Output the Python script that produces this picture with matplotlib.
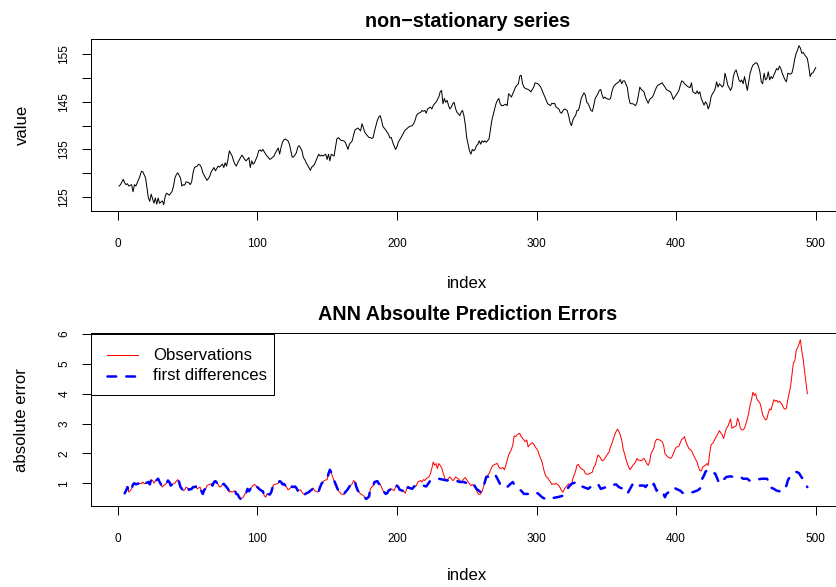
import matplotlib
matplotlib.use('Agg')
import matplotlib.pyplot as plt
from matplotlib.patches import Rectangle
from matplotlib.lines import Line2D

# ---------------- data ----------------
top_idx = [1,2,4,5,6,7,8,10,11,12,13,14,16,17,18,20,21,22,23,24,26,27,28,29,30,32,33,34,35,36,
           37,39,40,41,42,43,45,46,47,48,49,51,52,53,54,55,57,58,59,60,61,63,64,65,66,67,69,70,71,72,
           73,75,76,77,78,79,80,82,83,84,85,86,88,89,90,91,92,94,95,96,97,98,100,101,102,103,104,106,107,108,
           109,110,112,113,114,115,116,
           117,118,119,120,122,123,124,125,126,128,129,130,131,132,133,134,135,137,138,139,
           140,141,143,144,145,146,147,149,150,151,152,153,155,156,157,158,159,160,162,163,
           164,165,166,168,169,170,171,172,174,175,176,177,178,180,181,182,183,184,186,187,
           188,189,190,192,193,194,195,196,197,199,200,201,202,203,205,206,207,208,209,211,
           212,213,214,215,217,218,219,220,221,222,224,225,226,227,228,230,231,232,
           233,234,235,236,237,238,239,240,241,242,243,244,245,246,247,248,249,250,251,252,
           253,254,255,256,257,258,259,260,261,262,263,264,266,267,268,270,271,272,273,274,
           275,276,278,279,280,281,282,283,285,286,287,288,289,290,291,292,294,295,296,297,
           298,299,301,302,
           303,304,305,306,307,308,310,311,312,313,314,316,317,318,319,320,322,323,324,325,
           326,327,328,329,330,331,332,334,335,336,337,338,339,340,341,342,344,345,346,347,
           348,349,350,352,353,354,355,356,357,359,360,361,362,363,365,366,367,368,369,371,
           372,373,374,375,377,378,379,380,381,383,384,385,386,387,389,390,391,392,393,394,
           396,397,398,399,400,402,403,404,405,406,408,409,410,411,412,414,415,416,417,
           418,420,421,422,423,424,425,426,427,428,429,430,431,432,433,434,435,436,437,439,
           440,441,442,443,445,446,447,448,449,451,452,453,454,455,457,458,459,460,461,462,
           463,464,465,466,467,468,469,470,471,472,473,474,475,476,477,478,479,480,482,483,
           484,485,486,487,488,489,490,491,492,494,495,496,497,498,500]
top_val = [127.3,127.6,128.7,128.0,127.6,127.8,127.3,127.6,126.1,127.6,127.3,128.0,129.4,130.4,130.3,129.0,126.9,124.8,124.1,125.6,
           123.7,124.8,123.5,124.8,123.7,124.2,123.4,125.1,125.8,125.6,125.4,126.2,127.3,129.0,129.7,130.1,129.0,127.3,127.6,127.5,
           128.2,128.0,127.6,128.2,130.1,131.2,131.5,131.9,131.7,131.2,130.1,129.0,128.5,128.9,129.4,130.3,131.2,130.5,131.0,131.5,
           131.3,131.9,131.2,132.2,131.5,132.9,134.7,133.6,132.6,131.9,131.5,132.2,133.3,133.8,133.4,132.9,132.6,133.3,131.2,132.6,
           131.9,132.2,133.6,134.7,134.9,134.6,135.0,134.0,133.6,133.3,132.9,133.1,133.6,134.3,134.8,135.3,134.0,
           135.4,136.5,137.0,137.2,136.8,136.1,134.7,133.4,133.4,134.3,135.5,135.8,135.3,134.7,133.3,132.9,132.2,131.2,130.6,131.3,
           131.5,131.9,133.3,134.0,133.6,133.8,133.6,134.0,132.9,134.0,132.6,134.0,133.6,135.4,137.2,137.5,137.2,136.9,136.8,136.5,
           135.8,135.0,136.1,136.8,138.1,139.1,139.3,139.5,138.9,140.4,139.6,138.6,138.2,137.5,137.5,137.3,137.5,138.9,141.1,141.8,
           142.1,141.1,139.8,139.1,138.6,138.2,137.4,137.5,136.5,135.0,135.5,136.5,137.0,137.5,138.6,139.1,139.3,139.6,139.8,140.0,
           140.4,141.1,142.1,142.5,142.8,143.2,143.0,143.2,142.6,143.5,143.9,143.5,144.2,144.6,144.9,146.0,147.1,147.4,
           144.6,145.7,144.9,145.3,144.2,143.5,143.9,144.6,144.9,143.6,142.8,142.5,142.1,142.8,143.2,142.1,140.2,137.5,136.1,134.7,
           134.0,135.0,134.7,135.0,135.8,136.1,136.8,136.1,136.8,136.5,136.8,136.5,137.2,139.1,141.1,143.5,144.6,145.3,145.7,144.6,
           144.2,144.2,144.5,144.2,146.7,146.4,146.0,146.7,148.1,148.5,148.8,150.4,150.6,148.8,148.1,147.8,147.6,147.4,147.1,147.6,
           148.1,149.0,148.8,148.5,
           148.1,147.4,146.7,146.0,145.3,144.6,144.2,144.7,144.6,144.7,143.9,143.5,142.8,142.6,143.2,143.5,143.2,142.1,140.7,140.0,
           141.1,141.8,142.1,143.2,143.2,144.2,145.7,146.9,146.4,144.9,144.6,143.9,143.2,143.0,144.2,145.7,146.7,147.4,147.6,146.4,
           145.7,146.0,145.7,145.5,145.7,147.1,148.1,148.5,148.8,149.2,149.7,148.8,149.4,149.4,148.1,146.0,144.7,144.6,144.6,144.2,
           144.9,146.4,148.1,147.6,147.1,146.0,145.3,144.7,145.5,146.0,146.6,147.4,148.1,148.5,148.8,149.0,148.5,148.1,147.6,147.4,
           147.1,146.4,145.5,146.0,146.4,147.4,148.5,149.4,149.2,148.8,148.3,148.1,148.0,149.0,147.1,146.7,147.3,146.7,147.1,
           145.7,144.3,145.0,144.6,143.5,144.3,146.0,146.7,147.1,147.8,149.2,148.1,148.8,148.5,148.1,148.5,151.0,149.9,148.5,147.4,
           148.1,150.3,151.3,151.7,149.6,149.2,149.6,148.8,150.3,147.4,149.2,151.0,152.0,152.7,153.2,153.1,152.4,151.3,149.2,148.8,
           151.0,149.6,149.9,151.3,149.6,150.3,149.9,150.6,151.3,152.0,151.7,152.5,152.0,151.0,150.3,149.6,149.2,151.0,150.8,151.1,
           152.4,154.1,155.2,155.9,156.8,156.3,155.2,155.4,154.9,154.1,152.4,150.3,151.0,151.1,152.2]

obs_idx = [5,6,7,8,10,11,12,13,14,16,17,18,19,20,22,23,24,25,26,27,29,30,31,32,33,35,36,37,38,39,
           41,42,43,44,45,47,48,49,50,51,53,54,55,56,57,59,60,61,62,63,64,66,67,68,69,70,72,73,74,75,
           76,78,79,80,81,82,84,85,86,87,88,90,91,92,93,94,96,97,98,99,100,102,103,104,105,106,107,109,110,111,
           112,113,115,116,117,118,119,121,122,123,
           125,126,127,128,129,131,132,133,134,135,137,138,139,140,141,143,144,145,146,147,
           148,150,151,152,153,154,156,157,158,159,160,162,163,164,165,166,168,169,170,171,
           172,174,175,176,177,178,180,181,182,183,184,186,187,188,189,190,192,193,194,195,
           196,198,199,200,201,202,204,205,206,207,208,209,211,212,213,214,215,217,218,219,
           220,221,223,224,225,226,227,228,229,230,231,232,233,234,235,236,238,239,240,241,
           242,244,245,246,247,248,249,251,252,253,254,
           256,257,258,259,260,261,262,263,264,266,267,268,269,270,272,273,274,276,277,278,
           279,280,282,283,284,285,286,287,288,289,291,292,293,294,295,297,298,299,300,301,
           302,304,305,306,307,308,310,311,312,313,314,316,317,318,319,320,322,323,324,325,
           326,328,329,330,331,332,334,335,336,337,338,340,341,342,343,344,345,347,348,349,
           350,352,353,354,355,356,357,358,359,360,361,362,363,365,366,367,368,369,371,372,
           373,374,375,377,378,379,380,381,382,384,385,386,387,388,390,391,392,393,394,396,
           397,398,399,400,402,403,404,405,406,407,409,410,411,412,413,415,416,417,418,419,
           421,422,423,
           424,425,427,428,429,430,431,433,434,435,436,437,439,440,442,443,444,445,446,447,
           448,449,451,452,453,454,455,456,457,458,459,460,461,462,464,465,466,467,468,469,
           470,471,472,473,474,476,477,478,479,480,482,483,484,485,486,488,489,490,491,492,494]
obs_err = [0.66,0.75,0.87,0.70,0.81,0.96,1.00,0.96,0.98,1.00,0.98,1.04,0.98,1.00,1.04,0.96,1.12,1.09,1.00,1.07,
           1.15,1.04,0.96,0.87,0.92,1.00,1.09,1.04,0.92,0.96,1.00,1.07,1.12,1.04,0.87,0.75,0.78,0.87,0.84,0.78,
           0.81,0.87,0.87,0.89,0.81,0.87,0.73,0.64,0.78,0.81,0.92,0.96,0.98,0.92,1.04,1.07,0.96,0.87,0.89,0.96,
           0.98,0.87,0.81,0.70,0.73,0.70,0.75,0.64,0.62,0.53,0.47,0.53,0.64,0.66,0.81,0.73,0.87,0.92,0.96,0.92,
           0.87,0.78,0.75,0.73,0.58,0.53,0.64,0.62,0.70,0.87,0.96,0.96,1.00,1.07,1.04,0.96,0.98,0.87,0.78,0.81,
           0.89,0.87,0.89,0.84,0.75,0.78,0.70,0.64,0.62,0.66,0.70,0.75,0.78,0.84,0.75,0.70,0.73,0.87,0.98,1.04,
           1.09,1.12,1.32,1.42,1.34,1.21,0.98,0.87,0.75,0.70,0.64,0.62,0.70,0.75,0.81,0.89,0.98,1.09,1.04,0.87,
           0.75,0.64,0.62,0.58,0.53,0.47,0.55,0.81,0.87,0.92,1.04,1.07,0.98,0.96,0.87,0.75,0.64,0.66,0.75,0.78,
           0.81,0.75,0.87,0.92,0.87,0.78,0.75,0.73,0.66,0.81,0.87,0.84,0.81,0.87,0.89,0.92,1.04,1.09,1.04,1.12,
           1.09,1.15,1.21,1.32,1.49,1.71,1.60,1.66,1.49,1.66,1.60,1.52,1.37,1.21,1.09,1.12,1.21,1.15,1.09,1.12,
           1.21,1.15,1.09,1.04,1.09,1.15,1.19,1.04,0.98,0.92,0.96,
           0.87,0.75,0.66,0.62,0.64,0.73,0.87,1.07,1.21,1.32,1.43,1.54,1.60,1.63,1.66,1.54,1.49,1.52,1.45,1.60,
           1.77,1.94,2.13,2.28,2.58,2.56,2.62,2.65,2.67,2.56,2.45,2.39,2.45,2.22,2.28,2.36,2.31,2.22,2.16,2.09,
           1.94,1.71,1.49,1.32,1.21,1.18,1.04,0.96,0.98,0.96,1.00,0.92,0.84,0.75,0.70,0.81,0.92,0.98,0.96,0.92,
           1.15,1.41,1.60,1.63,1.54,1.49,1.43,1.32,1.30,1.30,1.32,1.37,1.54,1.60,1.77,1.94,1.91,1.75,1.77,1.83,
           1.91,2.05,2.22,2.33,2.47,2.62,2.73,2.81,2.73,2.62,2.45,2.16,1.99,1.66,1.54,1.45,1.52,1.60,1.71,1.83,
           1.77,1.77,1.75,1.83,1.75,1.66,1.60,1.71,1.99,2.17,2.39,2.47,2.47,2.45,2.39,2.28,1.99,1.94,1.88,1.83,
           1.88,1.99,2.11,2.20,2.24,2.36,2.47,2.50,2.56,2.39,2.17,2.13,2.09,1.99,1.88,1.71,1.54,1.43,1.41,1.54,
           1.60,1.66,1.60,
           1.99,2.28,2.39,2.50,2.58,2.67,2.76,2.62,2.50,2.67,2.84,2.90,3.15,2.84,2.90,2.92,3.18,3.07,2.84,2.79,
           2.79,2.84,3.15,3.35,3.63,3.80,4.05,3.94,4.00,3.80,3.75,3.69,3.52,3.29,3.12,3.15,3.35,3.49,3.46,3.63,
           3.80,3.75,3.78,3.71,3.75,3.63,3.52,3.48,3.52,3.80,4.25,4.65,5.04,5.10,5.44,5.66,5.81,5.44,5.16,4.76,4.00]

diff_idx = [5,6,7,8,10,11,12,13,14,16,17,18,19,20,22,23,24,25,26,27,29,30,31,32,33,35,36,37,38,39,
            41,42,43,44,45,47,48,49,50,51,53,54,55,56,57,59,60,61,62,63,64,66,67,68,69,70,72,73,74,75,
            76,78,79,80,81,82,84,85,86,87,88,90,91,92,93,94,96,97,98,99,100,102,103,104,105,106,107,109,110,111,
            112,113,115,116,117,118,119,121,122,123,
            125,126,127,128,129,131,132,133,134,135,137,138,139,140,141,143,144,145,146,147,
            148,150,151,152,153,154,156,157,158,159,160,162,163,164,165,166,168,169,170,171,
            172,174,175,176,177,178,180,181,182,183,184,186,187,188,189,190,192,193,194,195,
            196,198,199,200,201,202,204,205,206,207,208,209,211,212,
            213,216,219,221,224,227,230,233,236,239,242,245,248,250,252,255,257,260,262,264,
            267,270,272,274,275,279,281,283,285,289,291,294,297,301,304,307,311,315,319,323,
            325,329,331,337,340,344,346,350,351,357,359,362,365,369,372,374,377,378,380,383,
            384,386,388,391,392,393,396,398,400,403,405,408,410,412,415,417,418,420,421,422,
            423,424,425,428,430,431,434,436,439,441,443,446,448,451,453,455,458,460,462,465,
            466,467,470,472,474,476,477,479,480,482,483,484,486,488,489,491,492,494]
diff_err = [0.66,0.75,0.87,0.70,0.81,0.96,1.00,0.96,0.98,1.00,0.98,1.04,0.98,1.00,1.04,0.96,1.12,1.09,1.00,1.07,
            1.15,1.04,0.96,0.87,0.92,1.00,1.09,1.04,0.92,0.96,1.00,1.07,1.12,1.04,0.87,0.75,0.78,0.87,0.84,0.78,
            0.81,0.87,0.87,0.89,0.81,0.87,0.73,0.64,0.78,0.81,0.92,0.96,0.98,0.92,1.04,1.07,0.96,0.87,0.89,0.96,
            0.98,0.87,0.81,0.70,0.73,0.70,0.75,0.64,0.62,0.53,0.47,0.53,0.64,0.66,0.81,0.73,0.87,0.92,0.96,0.92,
            0.87,0.78,0.75,0.73,0.58,0.53,0.64,0.62,0.70,0.87,0.96,0.96,1.00,1.07,1.04,0.96,0.98,0.87,0.78,0.81,
            0.89,0.87,0.89,0.84,0.75,0.78,0.70,0.64,0.62,0.66,0.70,0.75,0.78,0.84,0.75,0.70,0.73,0.87,0.98,1.04,
            1.09,1.12,1.32,1.45,1.36,1.21,0.98,0.87,0.75,0.70,0.64,0.62,0.70,0.75,0.81,0.89,0.98,1.09,1.04,0.87,
            0.75,0.64,0.62,0.58,0.53,0.47,0.55,0.81,0.87,0.92,1.04,1.07,0.98,0.96,0.87,0.75,0.64,0.66,0.75,0.78,
            0.81,0.75,0.87,0.92,0.87,0.78,0.75,0.73,0.66,0.81,0.87,0.84,0.81,0.87,
            0.92,0.96,0.92,0.89,1.09,1.12,1.15,1.12,1.09,1.12,1.09,1.04,1.04,1.00,1.04,0.96,0.81,0.70,0.87,1.21,
            1.23,1.32,1.15,0.96,0.87,0.87,0.96,1.04,0.87,0.75,0.64,0.64,0.70,0.66,0.53,0.45,0.50,0.53,0.58,0.87,
            0.98,1.04,0.92,0.81,0.92,0.98,0.81,0.87,0.92,0.96,0.87,0.81,0.64,0.98,1.04,0.92,0.92,0.87,0.98,0.87,
            0.98,0.75,0.81,0.64,0.53,0.64,0.75,0.87,0.81,0.75,0.66,0.66,0.69,0.70,0.75,0.81,1.09,1.26,1.38,1.43,
            1.45,1.38,1.38,1.32,1.09,0.98,1.12,1.21,1.23,1.21,1.23,1.21,1.15,1.15,1.07,1.09,1.12,1.14,1.15,1.15,
            1.09,0.87,0.81,0.75,0.73,0.70,0.75,0.92,1.09,1.26,1.32,1.34,1.38,1.34,1.26,1.12,0.98,0.87]

x_ticks = [0, 100, 200, 300, 400, 500]
top_yticks = [125, 130, 135, 140, 145, 150, 155]
top_ylabels = ['125', '', '135', '', '145', '', '155']
bot_yticks = [1, 2, 3, 4, 5, 6]
legend_labels = ['Observations', 'first differences']

# ---------------- layout ----------------
W, H, DPI = 836, 587, 72
plt.rcParams['font.family'] = ['Liberation Sans', 'DejaVu Sans']
fig = plt.figure(figsize=(W / DPI, H / DPI), dpi=DPI)
fig.patch.set_facecolor('white')


def fx(px):
    return px / W


def fy(py):
    return 1 - py / H


def px_axes(x0, y0, x1, y1):
    return fig.add_axes([fx(x0), fy(y1), (x1 - x0) / W, (y1 - y0) / H])


TICK_FS = 11.7
LAB_FS = 16.7
TITLE_FS = 19.8
RED, BLUE = '#FF0000', '#0000FF'
DASH = (0, (3.5, 4))


def style(ax):
    for sp in ax.spines.values():
        sp.set_linewidth(1.0)
        sp.set_color('black')
    ax.tick_params(direction='out', length=9, width=1, labelsize=TICK_FS, color='black')
    ax.tick_params(axis='x', pad=18)
    ax.tick_params(axis='y', pad=12)


n_first, n_last = 1, 500
xpad = 0.04 * (n_last - n_first)

ax1 = px_axes(91.2, 39.3, 843.6, 211)
ax1.plot(top_idx, top_val, color='black', lw=1)
ax1.set_xlim(n_first - xpad, n_last + xpad)
ax1.margins(y=0.04)
ax1.set_xticks(x_ticks)
ax1.set_yticks(top_yticks)
ax1.set_yticklabels(top_ylabels, rotation=90, va='center')
style(ax1)
ax1.set_title('non\u2212stationary series', fontsize=TITLE_FS, fontweight='bold', pad=12)

ax2 = px_axes(91.2, 333.3, 843.6, 506)
ax2.plot(obs_idx, obs_err, color=RED, lw=1)
ax2.plot(diff_idx, diff_err, color=BLUE, lw=2.5, linestyle=DASH, dash_capstyle='round')
ax2.set_xlim(n_first - xpad, n_last + xpad)
ax2.margins(y=0.04)
ax2.set_xticks(x_ticks)
ax2.set_yticks(bot_yticks)
ax2.set_yticklabels([str(v) for v in bot_yticks], rotation=90, va='center')
style(ax2)
ax2.set_title('ANN Absoulte Prediction Errors', fontsize=TITLE_FS, fontweight='bold', pad=13)

# legend drawn R-style (box flush with the plot's top-left corner)
fig.add_artist(Rectangle((fx(91.2), fy(395)), (274 - 91.2) / W, (395 - 334) / H,
                         transform=fig.transFigure, facecolor='white', edgecolor='black', lw=1.0))
for row_y, col, lw, ls, lab in [(355, RED, 1.0, '-', legend_labels[0]),
                                (375.5, BLUE, 2.5, DASH, legend_labels[1])]:
    fig.add_artist(Line2D([fx(107), fx(138)], [fy(row_y), fy(row_y)], transform=fig.transFigure,
                          color=col, lw=lw, linestyle=ls, dash_capstyle='round'))
    fig.text(fx(153), fy(row_y), lab, ha='left', va='center', fontsize=LAB_FS)

# axis titles
cx = (91.2 + 843.6) / 2
fig.text(fx(cx), fy(284), 'index', ha='center', va='center', fontsize=LAB_FS)
fig.text(fx(cx), fy(575), 'index', ha='center', va='center', fontsize=LAB_FS)
fig.text(fx(22), fy(125.2), 'value', ha='center', va='center', rotation=90, fontsize=LAB_FS)
fig.text(fx(22), fy(419.7), 'absolute error', ha='center', va='center', rotation=90, fontsize=LAB_FS)

fig.savefig('out.png', dpi=DPI)
